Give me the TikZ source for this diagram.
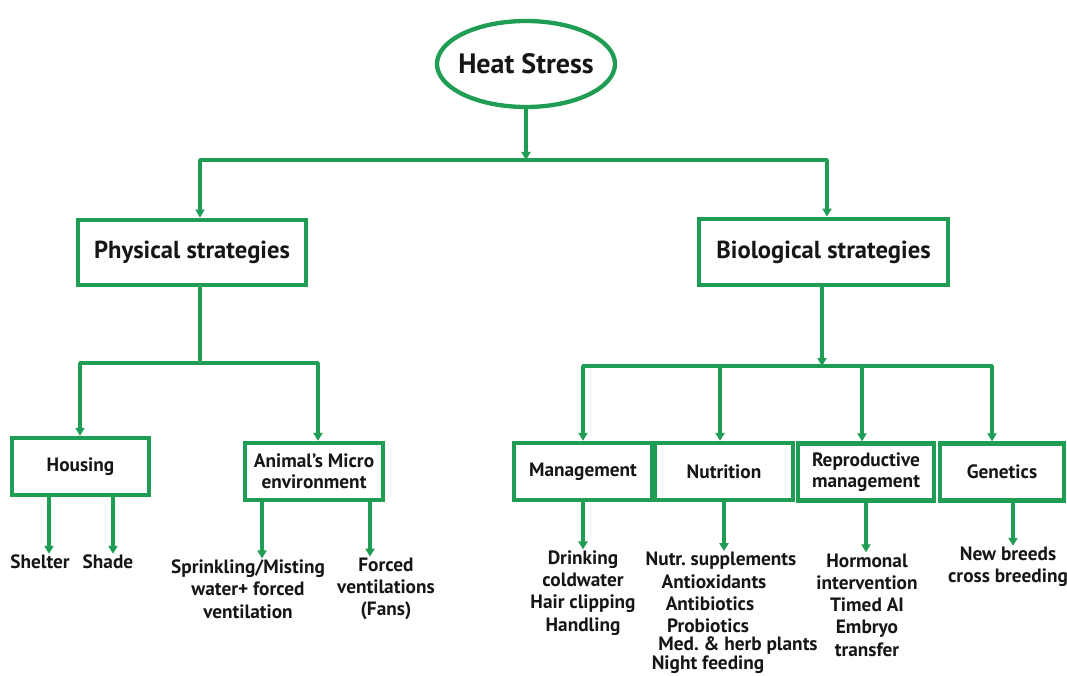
\documentclass[tikz,border=0pt]{standalone}
\usepackage{fontspec}
\setmainfont{PT Sans}
\usetikzlibrary{arrows.meta,shapes.geometric}
\definecolor{grn}{RGB}{32,157,84}
\definecolor{txt}{RGB}{22,22,22}
\frenchspacing
\tikzset{
  conn/.style={draw=grn,line width=3.2pt},
  arr/.style={conn,-{Triangle[length=8pt,width=9pt]}},
  bigbox/.style={draw=grn,line width=4.8pt,fill=white,minimum width=228pt,minimum height=65pt,font=\bfseries\fontsize{24.6}{28}\selectfont,text=txt},
  smallbox/.style={draw=grn,line width=4.3pt,fill=white,minimum height=57pt,font=\bfseries\fontsize{19.3}{21.5}\selectfont,text=txt,align=center,inner sep=1pt},
  leaf/.style={font=\bfseries\fontsize{19.3}{22.3}\selectfont,text=txt,align=center,inner sep=1pt}
}
\begin{document}
\begin{tikzpicture}[x=1pt,y=-1pt]
\useasboundingbox (0,0) rectangle (1067,676);
\fill[white] (0,0) rectangle (1067,676);
% top
\node[ellipse,draw=grn,line width=4.3pt,minimum width=178pt,minimum height=86pt,inner sep=0pt,font=\bfseries\fontsize{28}{32}\selectfont,text=txt] (hs) at (526,64) {\makebox[0pt]{Heat Stress}};
\node[bigbox] (phys) at (192,252.5) {Physical strategies};
\node[bigbox,minimum width=249pt,minimum height=66pt] (bio) at (823.5,252) {Biological strategies};
% second level boxes
\node[smallbox,minimum width=137pt] (housing) at (80.5,466.5) {Housing};
\node[smallbox,minimum width=138pt] (animal) at (314,471.5) {Animal’s Micro\\environment};
\node[smallbox,minimum width=138pt] (mgmt) at (583,471.5) {Management};
\node[smallbox,minimum width=138pt] (nutr) at (724,471.5) {Nutrition};
\node[smallbox,minimum width=136pt] (repro) at (866,472) {Reproductive\\management};
\node[smallbox,minimum width=124pt] (gen) at (1002,472) {Genetics};
% leaves
\node[leaf] (shelter) at (40,562) {Shelter};
\node[leaf] (shade) at (108,562) {Shade};
\node[leaf] (sprink) at (248,589) {Sprinkling/Misting\\water+ forced\\ventilation};
\node[leaf] (forced) at (386,589) {Forced\\ventilations\\(Fans)};
\node[leaf] (drink) at (583,593) {Drinking\\coldwater\\Hair clipping\\Handling};
\node[leaf] (n1) at (721,561) {Nutr. supplements};
\node[leaf] (n2) at (714,582) {Antioxidants};
\node[leaf] (n3) at (710,604) {Antibiotics};
\node[leaf] (n4) at (708,626) {Probiotics};
\node[leaf] (n5) at (738,646) {Med. \& herb plants};
\node[leaf] (n6) at (708,664.5) {Night feeding};
\node[leaf] (horm) at (867,605) {Hormonal\\intervention\\Timed AI\\Embryo\\transfer};
\node[leaf] (breed) at (1008,567) {New breeds\\cross breeding};
% bars
\coordinate (tb) at (526,160);
\coordinate (tbL) at (200,160);
\coordinate (tbR) at (827,160);
\coordinate (pb) at (200,363);
\coordinate (pbL) at (80,363);
\coordinate (pbR) at (318,363);
\coordinate (bb) at (822,366);
\coordinate (bbL) at (583,366);
\coordinate (bbN) at (720,366);
\coordinate (bbP) at (862,366);
\coordinate (bbR) at (992,366);
% top connectors
\draw[arr] (hs.south) -- (tb);
\draw[conn,line cap=round] (tbL) -- (tbR);
\draw[arr] (tbL) -- (tbL |- phys.north);
\draw[arr] (tbR) -- (tbR |- bio.north);
% physical
\draw[conn] (phys.south -| pb) -- (pb);
\draw[conn,line cap=round] (pbL) -- (pbR);
\draw[arr] (pbL) -- (pbL |- housing.north);
\draw[arr] (pbR) -- (pbR |- animal.north);
\draw[arr] ([xshift=9pt]shelter.north |- housing.south) -- ([xshift=9pt]shelter.north);
\draw[arr] ([xshift=5pt]shade.north |- housing.south) -- ([xshift=5pt]shade.north);
\draw[arr] ([xshift=14pt]sprink.north |- animal.south) -- ([xshift=14pt]sprink.north);
\draw[arr] ([xshift=-16pt]forced.north |- animal.south) -- ([xshift=-16pt]forced.north);
% biological
\draw[arr] (bio.south -| bb) -- (bb);
\draw[conn,line cap=round] (bbL) -- (bbR);
\draw[arr] (bbL) -- (bbL |- mgmt.north);
\draw[arr] (bbN) -- (bbN |- nutr.north);
\draw[arr] (bbP) -- (bbP |- repro.north);
\draw[arr] (bbR) -- (bbR |- gen.north);
\draw[arr] (mgmt.south) -- (drink.north);
\draw[arr] (nutr.south) -- (nutr.south |- n1.north);
\draw[arr] (repro.south) -- (repro.south |- horm.north);
\draw[arr] ([xshift=5pt]breed.north |- gen.south) -- ([xshift=5pt]breed.north);
\end{tikzpicture}
\end{document}
